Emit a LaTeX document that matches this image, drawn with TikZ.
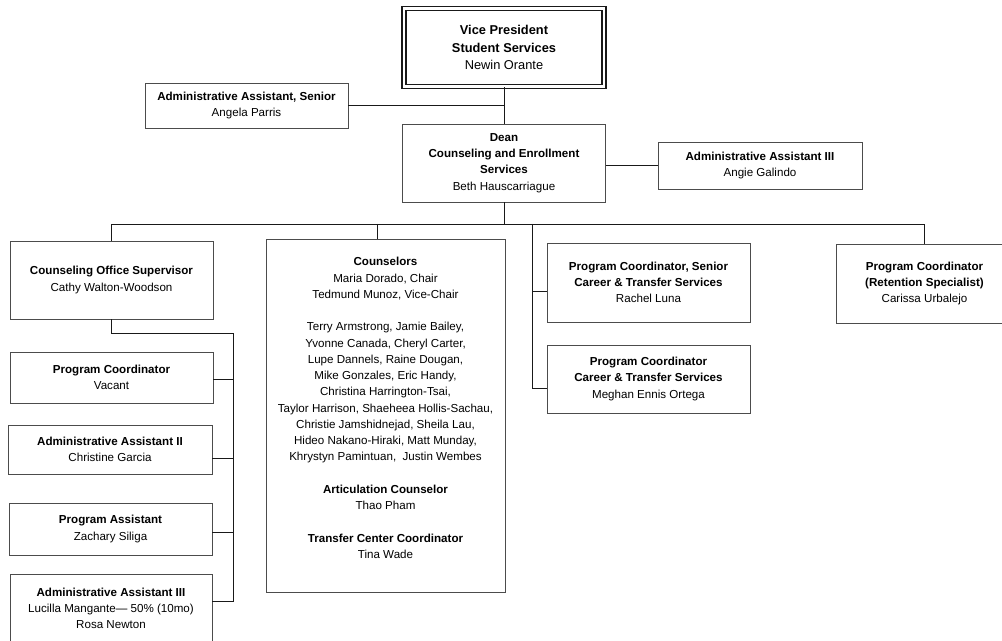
\documentclass[tikz,border=0pt]{standalone}
\usepackage{fontspec}
\setmainfont{Liberation Sans}
\usetikzlibrary{calc,positioning}
\newcommand{\orgfont}{\fontsize{6.6}{9.25}\selectfont}
\newcommand{\topfont}{\fontsize{7.3}{9.9}\selectfont}
\tikzset{
  boxsize/.style 2 args={minimum width=#1*0.02cm, minimum height=#2*0.02cm},
  unitbox/.style={draw=black!70, line width=0.5pt, fill=white, align=center,
    inner sep=0pt, font=\orgfont},
  topbox/.style={unitbox, draw=black!90, line width=0.75pt, double, double distance=1.5pt,
    font=\topfont},
  txt/.style={align=center, inner sep=0pt, font=\orgfont},
  link/.style={draw=black!90, line width=0.55pt},
}

\begin{document}
\begin{tikzpicture}[x=0.02cm,y=-0.02cm]
    \useasboundingbox (0,0) rectangle (1002,641);
    % top of the chart
    \node[topbox, boxsize={200}{78}] (vp) at (504,47.5)
        {\textbf{Vice President}\\\textbf{Student Services}\\Newin Orante};
    \node[unitbox, boxsize={203}{45}] (aas) at (246.5,105.5)
        {\textbf{Administrative Assistant, Senior}\\Angela Parris};
    \node[unitbox, boxsize={203}{78}] (dean) at (504,163)
        {\textbf{Dean}\\\textbf{Counseling and Enrollment}\\\textbf{Services}\\Beth Hauscarriague};
    \node[unitbox, boxsize={204}{47}] (aa3) at (760,165.5)
        {\textbf{Administrative Assistant III}\\Angie Galindo};
    % second row
    \node[unitbox, boxsize={203}{78}] (cos) at (111.5,280)
        {\textbf{Counseling Office Supervisor}\\Cathy Walton-Woodson};
    \node[unitbox, boxsize={239}{353}] (cns) at (385.5,415.5) {};
    \node[txt, below=0.37cm of cns.north] (cnstext)
        {\textbf{Counselors}\\Maria Dorado, Chair\\Tedmund Munoz, Vice-Chair\\[9.25pt]
         Terry Armstrong, Jamie Bailey,\\Yvonne Canada, Cheryl Carter,\\
         Lupe Dannels, Raine Dougan,\\Mike Gonzales, Eric Handy,\\
         Christina Harrington-Tsai,\\Taylor Harrison, Shaeheea Hollis-Sachau,\\
         Christie Jamshidnejad, Sheila Lau,\\Hideo Nakano-Hiraki, Matt Munday,\\
         Khrystyn Pamintuan,\ \ Justin Wembes\\[9.25pt]
         \textbf{Articulation Counselor}\\Thao Pham\\[9.25pt]
         \textbf{Transfer Center Coordinator}\\Tina Wade};
    \node[unitbox, boxsize={203}{79}] (pcs) at (648.5,282.5)
        {\textbf{Program Coordinator, Senior}\\\textbf{Career \& Transfer Services}\\Rachel Luna};
    \node[unitbox, boxsize={203}{68}] (pcc) at (648.5,379)
        {\textbf{Program Coordinator}\\\textbf{Career \& Transfer Services}\\Meghan Ennis Ortega};
    \node[unitbox, boxsize={177}{79}] (ret) at (924.5,283.5)
        {\textbf{Program Coordinator}\\\textbf{(Retention Specialist)}\\Carissa Urbalejo};
    % under the supervisor
    \node[unitbox, boxsize={203}{51}] (pcv) at (111.5,377.5)
        {\textbf{Program Coordinator}\\Vacant};
    \node[unitbox, boxsize={204}{49}] (aa2) at (110,449.5)
        {\textbf{Administrative Assistant II}\\Christine Garcia};
    \node[unitbox, boxsize={203}{52}] (pa) at (110.5,529)
        {\textbf{Program Assistant}\\Zachary Siliga};
    \node[unitbox, boxsize={202}{69}] (aa3b) at (111,608.5)
        {\textbf{Administrative Assistant III}\\Lucilla Mangante--- 50\% (10mo)\\Rosa Newton};
    % connectors
    \draw[link] (vp.south) -- (dean.north);
    \draw[link] (aas.east) -- (aas.east -| vp.south);
    \draw[link] (dean.east |- aa3.west) -- (aa3.west);
    \coordinate (bus) at (504,224);
    \draw[link] (dean.south) -- (bus);
    \draw[link] (cos.north) -- (cos.north |- bus) -- (ret.north |- bus) -- (ret.north);
    \coordinate (cnsdrop) at (377,224);
    \draw[link] (cnsdrop) -- (cnsdrop |- cns.north);
    \coordinate (pctrunk) at (532,224);
    \draw[link] (pctrunk) |- ($(pcc.west)+(0,9)$);
    \draw[link] ($(pctrunk |- pcs.west)+(0,9)$) -- ($(pcs.west)+(0,9)$);
    \coordinate (cosbend) at (233,333);
    \coordinate (lowend) at (233,601);
    \draw[link] (cos.south) |- (cosbend) -- (lowend) -- (lowend -| aa3b.east);
    \foreach \b/\d in {pcv/1.5, aa2/8.5, pa/3}
        \draw[link] ($(\b.east)+(0,\d)$) -- ($(cosbend |- \b.east)+(0,\d)$);
\end{tikzpicture}
\end{document}
